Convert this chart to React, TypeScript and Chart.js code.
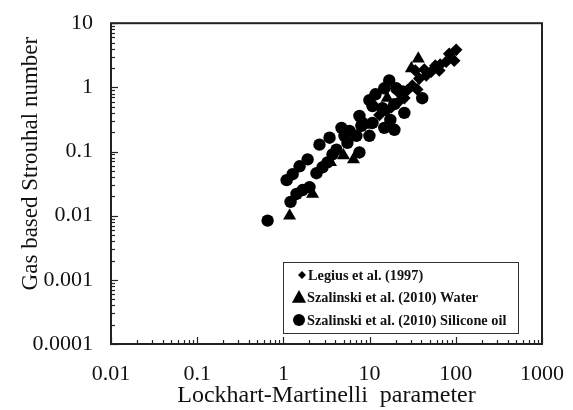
import React, { useEffect, useRef } from "react";
import { Chart, registerables } from "chart.js";

Chart.register(...registerables);

// ---- Data ----
const seriesLabels = [
  "Legius et al. (1997)",
  "Szalinski et al. (2010) Water",
  "Szalinski et al. (2010) Silicone oil",
];

const legiusX = [101, 83.9, 95.8, 77.4, 65.9, 57.8, 64.3, 51.9, 45.4, 43.1, 33.9, 37.7, 31.3, 35.7, 27.4, 25.3, 22.1, 21, 17.9, 15.6, 13];
const legiusY = [3.84, 3.33, 2.6, 2.51, 2.26, 2.18, 1.83, 1.76, 1.53, 1.89, 1.83, 1.37, 1.07, 0.93, 0.9, 0.68, 0.81, 0.57, 0.49, 0.43, 0.37];

const waterX = [1.18, 2.18, 3.52, 4.98, 6.5, 8.9, 16, 30.5, 36.7];
const waterY = [0.01, 0.0218, 0.068, 0.087, 0.075, 0.26, 0.68, 1.96, 2.8];

const oilX = [0.656, 1.09, 1.21, 1.28, 1.42, 1.54, 1.67, 1.91, 2.01, 2.42, 2.62, 2.84, 3.25, 3.43, 3.71, 4.13, 4.72, 5.11, 5.84, 5.53, 7.03, 7.62, 8.04, 7.62, 8.26, 9.95, 9.95, 10.8, 10.8, 11.7, 14.1, 14.8, 14.8, 16.9, 17.4, 19.4, 20.4, 24, 40.8, 25.3, 19.4];
const oilY = [0.00838, 0.0358, 0.0164, 0.0443, 0.0218, 0.0588, 0.0251, 0.0753, 0.0279, 0.0459, 0.128, 0.0568, 0.0678, 0.164, 0.0899, 0.107, 0.234, 0.176, 0.21, 0.137, 0.176, 0.358, 0.251, 0.0966, 0.279, 0.631, 0.176, 0.51, 0.279, 0.78, 0.475, 0.234, 0.966, 1.28, 0.31, 0.547, 0.966, 0.867, 0.677, 0.4, 0.218];

const xTickValues = [0.01, 0.1, 1, 10, 100, 1000];
const yTickValues = [0.0001, 0.001, 0.01, 0.1, 1, 10];

const xTitle = "Lockhart-Martinelli  parameter";
const yTitle = "Gas based Strouhal number";

const FONT = "'Liberation Serif', 'Times New Roman', serif";

const toPoints = (xs: number[], ys: number[]) => xs.map((x, i) => ({ x, y: ys[i] }));

function minorValues(majors: number[]) {
  const out: { v: number; major: boolean }[] = [];
  majors.forEach((m, i) => {
    out.push({ v: m, major: true });
    if (i < majors.length - 1) {
      for (let k = 2; k < 10; k++) out.push({ v: m * k, major: false });
    }
  });
  return out;
}

function drawMarker(ctx: CanvasRenderingContext2D, style: string, x: number, y: number, r: number) {
  ctx.beginPath();
  if (style === "circle") {
    ctx.arc(x, y, r, 0, Math.PI * 2);
  } else if (style === "triangle") {
    ctx.moveTo(x, y - r);
    ctx.lineTo(x + r * 0.95, y + r * 0.7);
    ctx.lineTo(x - r * 0.95, y + r * 0.7);
    ctx.closePath();
  } else {
    ctx.moveTo(x, y - r);
    ctx.lineTo(x + r, y);
    ctx.lineTo(x, y + r);
    ctx.lineTo(x - r, y);
    ctx.closePath();
  }
  ctx.fill();
}

const decorPlugin = {
  id: "decor",
  afterDraw(chart: any) {
    const { ctx, chartArea } = chart;
    const { left, right, top, bottom } = chartArea;
    const xs = chart.scales.x;
    const ys = chart.scales.y;
    ctx.save();
    // inward ticks
    ctx.strokeStyle = "#222";
    ctx.lineWidth = 1.2;
    minorValues(xTickValues).forEach(({ v, major }) => {
      const px = Math.round(xs.getPixelForValue(v)) + 0.5;
      const len = major ? 7 : 4;
      ctx.beginPath();
      ctx.moveTo(px, bottom);
      ctx.lineTo(px, bottom - len);
      ctx.stroke();
    });
    minorValues(yTickValues).forEach(({ v, major }) => {
      const py = Math.round(ys.getPixelForValue(v)) + 0.5;
      const len = major ? 7 : 4;
      ctx.beginPath();
      ctx.moveTo(left, py);
      ctx.lineTo(left + len, py);
      ctx.stroke();
    });
    // frame
    ctx.lineWidth = 2;
    ctx.strokeStyle = "#222";
    ctx.strokeRect(left, top, right - left, bottom - top);

    // y title
    ctx.save();
    ctx.fillStyle = "#111";
    ctx.font = `23px ${FONT}`;
    ctx.textAlign = "center";
    ctx.textBaseline = "middle";
    ctx.translate(left - 80, (top + bottom) / 2 - 20);
    ctx.rotate(-Math.PI / 2);
    ctx.fillText(yTitle, 0, 0);
    ctx.restore();

    // legend
    const lx0 = left + 172;
    const lx1 = right - 24;
    const ly0 = bottom - 82;
    const ly1 = bottom - 11;
    ctx.fillStyle = "#fff";
    ctx.fillRect(lx0, ly0, lx1 - lx0, ly1 - ly0);
    ctx.strokeStyle = "#333";
    ctx.lineWidth = 1;
    ctx.strokeRect(lx0 + 0.5, ly0 + 0.5, lx1 - lx0, ly1 - ly0);
    const styles = ["rectRot", "triangle", "circle"];
    const sizes = [4, 7.5, 6];
    const markerX = [lx0 + 19, lx0 + 16, lx0 + 16];
    chart.data.datasets.forEach((ds: any, i: number) => {
      const cy = ly0 + 13 + i * 22.5;
      ctx.fillStyle = "#000";
      drawMarker(ctx, styles[i], markerX[i], cy, sizes[i]);
      ctx.font = `bold 14.3px ${FONT}`;
      ctx.textAlign = "left";
      ctx.textBaseline = "middle";
      ctx.fillStyle = "#111";
      ctx.fillText(ds.label, lx0 + (i === 0 ? 25 : 24), cy + 1);
    });
    ctx.restore();
  },
};

export default function App() {
  const canvasRef = useRef<HTMLCanvasElement | null>(null);

  useEffect(() => {
    if (!canvasRef.current) return;
    const chart = new Chart(canvasRef.current, {
      type: "scatter",
      data: {
        datasets: [
          {
            label: seriesLabels[0],
            data: toPoints(legiusX, legiusY),
            pointStyle: "rectRot",
            pointRadius: 6.3,
            backgroundColor: "#000",
            borderColor: "#000",
            borderWidth: 0,
          },
          {
            label: seriesLabels[1],
            data: toPoints(waterX, waterY),
            pointStyle: "triangle",
            pointRadius: 7.5,
            backgroundColor: "#000",
            borderColor: "#000",
            borderWidth: 0,
          },
          {
            label: seriesLabels[2],
            data: toPoints(oilX, oilY),
            pointStyle: "circle",
            pointRadius: 6.2,
            backgroundColor: "#000",
            borderColor: "#000",
            borderWidth: 0,
          },
        ],
      },
      options: {
        responsive: false,
        animation: false,
        devicePixelRatio: 1,
        layout: { padding: { left: 0, right: 30, top: 19, bottom: 0 } },
        plugins: { legend: { display: false }, tooltip: { enabled: false } },
        scales: {
          x: {
            type: "logarithmic",
            min: 0.01,
            max: 1000,
            grid: { display: false },
            border: { display: false },
            afterFit: (s: any) => {
              s.height = 66;
            },
            afterBuildTicks: (s: any) => {
              s.ticks = xTickValues.map((v) => ({ value: v }));
            },
            ticks: {
              autoSkip: false,
              maxRotation: 0,
              padding: 9,
              color: "#111",
              font: { family: FONT, size: 22 },
              callback: (v: any) => String(v),
            },
            title: {
              display: true,
              text: xTitle,
              color: "#111",
              font: { family: FONT, size: 24 },
              padding: { top: 0, bottom: 0 },
            },
          },
          y: {
            type: "logarithmic",
            min: 0.0001,
            max: 10,
            grid: { display: false },
            border: { display: false },
            afterFit: (s: any) => {
              s.width = 111;
            },
            afterBuildTicks: (s: any) => {
              s.ticks = yTickValues.map((v) => ({ value: v }));
            },
            ticks: {
              autoSkip: false,
              padding: 10,
              color: "#111",
              font: { family: FONT, size: 22 },
              callback: (v: any) => String(v),
            },
          },
        },
      },
      plugins: [decorPlugin],
    } as any);
    return () => chart.destroy();
  }, []);

  return (
    <div style={{ position: "absolute", left: 0, top: 0, width: 573, height: 410, background: "#fff" }}>
      <canvas ref={canvasRef} width={573} height={410} style={{ display: "block" }} />
    </div>
  );
}
